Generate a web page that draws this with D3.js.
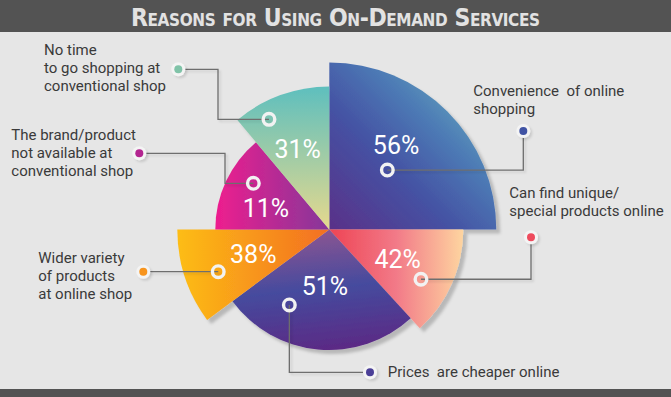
<!DOCTYPE html>
<html>
<head>
<meta charset="utf-8">
<script src="https://cdn.jsdelivr.net/npm/d3@7"></script>
<style>
  body { margin: 0; background: #e6e6e6; }
  svg { display: block; }
  text { font-family: Roboto, "Open Sans", sans-serif; white-space: pre; }
</style>
</head>
<body>
<div id="chart"></div>
<script>
// reasons, clockwise from 12 o'clock
var categories = [
  "Convenience  of online\nshopping",
  "Can find unique/\nspecial products online",
  "Prices  are cheaper online",
  "Wider variety\nof products\nat online shop",
  "The brand/product\nnot available at\nconventional shop",
  "No time\nto go shopping at\nconventional shop"
];
var values = [56, 42, 51, 38, 11, 31];
var title = "Reasons for Using On-Demand Services";

// wedge shape (the infographic does not size wedges by value)
var wedgeSpan = [90, 47.5, 96, 36.5, 50, 40];
var wedgeRadius = [167, 134, 120.5, 152, 114, 143];

var width = 671, height = 397;
var cx = 329.3, cy = 229.5;

// polar spots [deg, r] for the % text and for the ring marker
var pctAt = [[38.3, 107.7], [113.5, 74.6], [184.4, 56.7], [252.1, 79.9], [288.5, 66.8], [338.5, 86.2]];
var ringAt = [[44.3, 83.1], [118.5, 104.3], [207.9, 85.4], [249.2, 118.8], [301.3, 88.9], [331.3, 125.6]];

// callout text + dot, and how the leader line bends
var notes = [
  {x: 473.3, y: 96,    dot: [523.3, 131],   leg: "v"},
  {x: 509.3, y: 198.3, dot: [531, 237.3],   leg: "v"},
  {x: 387.7, y: 376.7, dot: [370, 372.3],   leg: "u"},
  {x: 38.3,  y: 262.7, dot: [143.3, 271.7], leg: "h"},
  {x: 11.3,  y: 140,   dot: [139.3, 153.3], leg: "z", elbow: 225},
  {x: 44,    y: 55,    dot: [178.3, 69.3],  leg: "z", elbow: 218}
];
var dotColors = ["#4053a4", "#ee4b5d", "#4b3f97", "#f7941d", "#b32590", "#80c3a8"];

var gradients = [
  {x1: 0, y1: 1, x2: 1, y2: 0, stops: [[0, "#5a3088"], [0.38, "#4453a4"], [0.62, "#4d7ab5"], [1, "#6fc8c4"]]},
  {x1: 0, y1: 0, x2: 1, y2: 0, stops: [[0, "#ee4454"], [0.5, "#f27a88"], [1, "#fed5a0"]]},
  {x1: 0.35, y1: 0, x2: 0.5, y2: 1, stops: [[0, "#8f5591"], [0.5, "#454b9e"], [1, "#5b2a85"]]},
  {x1: 0, y1: 0, x2: 1, y2: 0, stops: [[0, "#fdbd15"], [1, "#f36f22"]]},
  {x1: 0, y1: 0, x2: 1, y2: 0, stops: [[0, "#ee1e8e"], [1, "#85379a"]]},
  {x1: 0, y1: 0, x2: 0, y2: 1, stops: [[0, "#5ebfbe"], [1, "#e6d98d"]]}
];

var svg = d3.select("#chart").append("svg")
  .attr("width", width)
  .attr("height", height);

var defs = svg.append("defs");

var shadow = defs.append("filter").attr("id", "shadow")
  .attr("x", "-10%").attr("y", "-10%").attr("width", "130%").attr("height", "130%");
shadow.append("feDropShadow")
  .attr("dx", 4).attr("dy", 4).attr("stdDeviation", 1.8)
  .attr("flood-color", "#000").attr("flood-opacity", 0.2);

var soft = defs.append("filter").attr("id", "soft")
  .attr("x", "-50%").attr("y", "-50%").attr("width", "200%").attr("height", "200%");
soft.append("feDropShadow")
  .attr("dx", 2).attr("dy", 2).attr("stdDeviation", 1)
  .attr("flood-color", "#000").attr("flood-opacity", 0.12);

gradients.forEach(function(g, i) {
  var lg = defs.append("linearGradient").attr("id", "grad" + i)
    .attr("x1", g.x1).attr("y1", g.y1).attr("x2", g.x2).attr("y2", g.y2);
  g.stops.forEach(function(s) {
    lg.append("stop").attr("offset", s[0]).attr("stop-color", s[1]);
  });
});

// background + bars
svg.append("rect").attr("width", width).attr("height", height).attr("fill", "#e6e6e6");
svg.append("rect").attr("width", width).attr("height", 32).attr("fill", "#535353");
svg.append("rect").attr("y", 389).attr("width", width).attr("height", height - 389).attr("fill", "#535353");

// title in small caps, spread to the reference width
var titleText = svg.append("text")
  .attr("x", 131).attr("y", 26)
  .attr("fill", "#e2e2e2")
  .style("font-family", '"Liberation Sans Narrow", "DejaVu Sans Condensed", Roboto, sans-serif')
  .style("font-size", "24.5px")
  .style("font-weight", 700)
  .style("font-variant", "small-caps")
  .text(title);
var natural = titleText.node().getComputedTextLength();
titleText.style("letter-spacing", ((409 - natural) / (title.length - 1)) + "px");

var deg = d3.scaleLinear().domain([0, 360]).range([0, 2 * Math.PI]);

var pie = d3.pie()
  .sort(null)
  .value(function(d, i) { return wedgeSpan[i]; });

var arc = d3.arc()
  .innerRadius(0)
  .outerRadius(function(d) { return wedgeRadius[d.index]; });

function at(p) {
  var xy = d3.pointRadial(deg(p[0]), p[1]);
  return [cx + xy[0], cy + xy[1]];
}

var chart = svg.append("g").attr("transform", "translate(" + cx + "," + cy + ")");

chart.append("g")
  .attr("filter", "url(#shadow)")
  .selectAll("path")
  .data(pie(values))
  .join("path")
    .attr("d", arc)
    .attr("fill", function(d, i) { return "url(#grad" + i + ")"; });

// leader lines
var lines = svg.append("g").attr("filter", "url(#soft)");
notes.forEach(function(n, i) {
  var m = at(ringAt[i]);
  var d = n.dot, pts;
  if (n.leg === "v") pts = [d, [d[0], m[1]], m];
  else if (n.leg === "u") pts = [m, [m[0], d[1]], d];
  else if (n.leg === "z") pts = [d, [n.elbow, d[1]], [n.elbow, m[1]], m];
  else pts = [d, [m[0], d[1]]];
  lines.append("path")
    .attr("d", d3.line()(pts))
    .attr("fill", "none")
    .attr("stroke", "#6e6e6e")
    .attr("stroke-width", 1.3);
});

// percentage labels
values.forEach(function(v, i) {
  var p = at(pctAt[i]);
  svg.append("text")
    .attr("x", p[0])
    .attr("y", p[1] + 25 * 0.355)
    .attr("text-anchor", "middle")
    .attr("fill", "#fff")
    .style("font-size", "25px")
    .style("font-weight", 400)
    .text(v + "%");
});

// ring markers on the wedges
ringAt.forEach(function(r) {
  var p = at(r);
  svg.append("circle")
    .attr("cx", p[0]).attr("cy", p[1]).attr("r", 5.8)
    .attr("fill", "none")
    .attr("stroke", "#f2f2f2")
    .attr("stroke-width", 3.4);
});

// callout dots + text
notes.forEach(function(n, i) {
  svg.append("circle")
    .attr("cx", n.dot[0]).attr("cy", n.dot[1]).attr("r", 7)
    .attr("fill", "#f4f4f4")
    .attr("filter", "url(#soft)");
  svg.append("circle")
    .attr("cx", n.dot[0]).attr("cy", n.dot[1]).attr("r", 4)
    .attr("fill", dotColors[i]);

  var t = svg.append("text")
    .attr("x", n.x).attr("y", n.y)
    .attr("fill", "#3a3a3a")
    .style("font-size", "15px");
  categories[i].split("\n").forEach(function(line, k) {
    t.append("tspan").attr("x", n.x).attr("y", n.y + k * 18).text(line);
  });
});
</script>
</body>
</html>
